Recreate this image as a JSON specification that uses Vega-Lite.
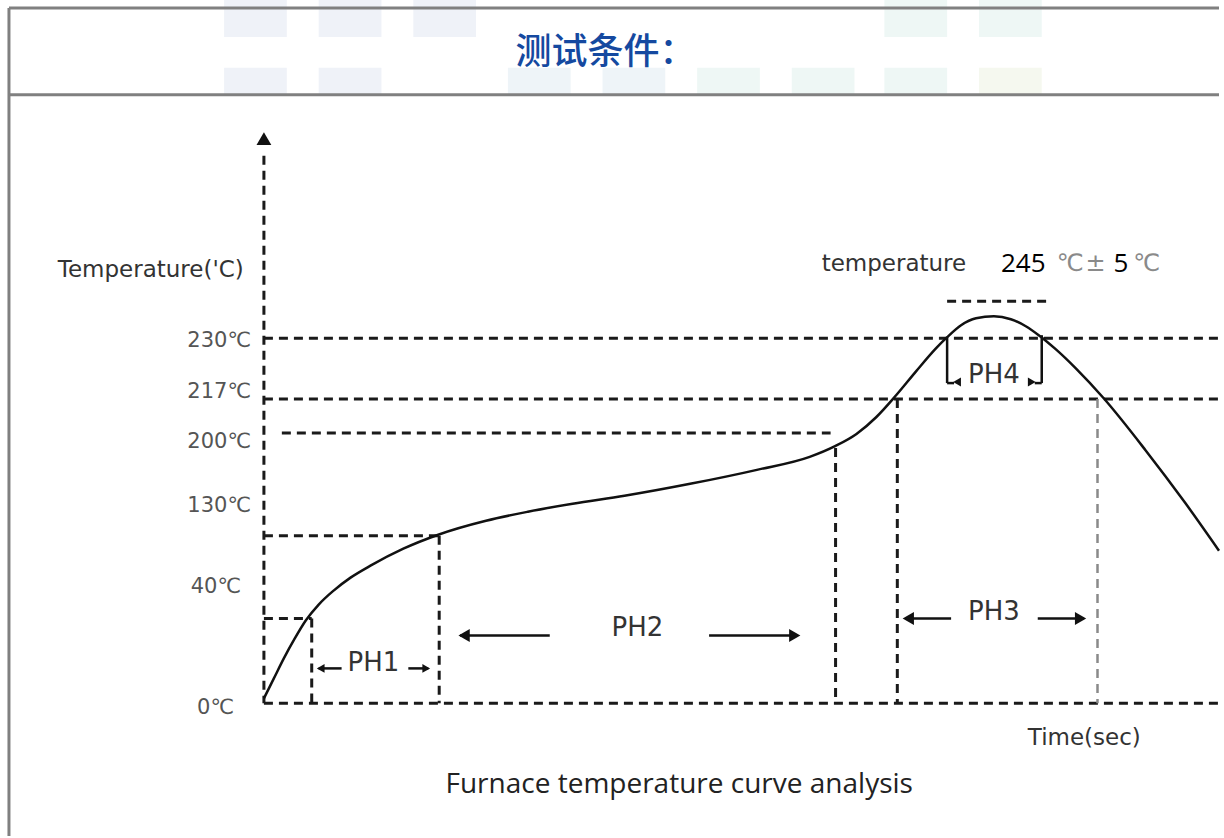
{
  "$schema": "https://vega.github.io/schema/vega-lite/v6.json",
  "width": 1224,
  "height": 838,
  "padding": 0,
  "autosize": {"type": "fit", "contains": "padding"},
  "background": "white",
  "config": {"view": {"stroke": null}},
  "datasets": {
    "tiles": [
      {"x": 225, "x2": 288, "y": 0, "y2": 37, "tone": "blue"},
      {"x": 320, "x2": 383, "y": 0, "y2": 37, "tone": "blue"},
      {"x": 415, "x2": 478, "y": 0, "y2": 37, "tone": "blue"},
      {"x": 888, "x2": 951, "y": 0, "y2": 37, "tone": "green"},
      {"x": 983, "x2": 1046, "y": 0, "y2": 37, "tone": "green"},
      {"x": 225, "x2": 288, "y": 68, "y2": 95, "tone": "blue"},
      {"x": 320, "x2": 383, "y": 68, "y2": 95, "tone": "blue"},
      {"x": 510, "x2": 573, "y": 68, "y2": 95, "tone": "sky"},
      {"x": 605, "x2": 668, "y": 68, "y2": 95, "tone": "sky"},
      {"x": 700, "x2": 763, "y": 68, "y2": 95, "tone": "green"},
      {"x": 795, "x2": 858, "y": 68, "y2": 95, "tone": "green"},
      {"x": 888, "x2": 951, "y": 68, "y2": 95, "tone": "green"},
      {"x": 983, "x2": 1046, "y": 68, "y2": 95, "tone": "lime"}
    ],
    "frame": [
      {"x": 9, "x2": 1224, "y": 8, "y2": 8},
      {"x": 9, "x2": 1224, "y": 95, "y2": 95},
      {"x": 9, "x2": 9, "y": 8, "y2": 838}
    ],
    "dashed": [
      {"x": 265, "x2": 265, "y": 156, "y2": 705},
      {"x": 265, "x2": 1224, "y": 705, "y2": 705},
      {"x": 265, "x2": 1224, "y": 339, "y2": 339},
      {"x": 265, "x2": 1224, "y": 400, "y2": 400},
      {"x": 283, "x2": 834, "y": 434, "y2": 434},
      {"x": 265, "x2": 441, "y": 537, "y2": 537},
      {"x": 265, "x2": 313, "y": 620, "y2": 620},
      {"x": 951, "x2": 1052, "y": 302, "y2": 302},
      {"x": 313, "x2": 313, "y": 620, "y2": 705},
      {"x": 441, "x2": 441, "y": 537, "y2": 705},
      {"x": 839, "x2": 839, "y": 449, "y2": 705},
      {"x": 901, "x2": 901, "y": 400, "y2": 705}
    ],
    "dashedGray": [
      {"x": 1102, "x2": 1102, "y": 400, "y2": 705}
    ],
    "solid": [
      {"x": 951, "x2": 951, "y": 338, "y2": 384},
      {"x": 1046, "x2": 1046, "y": 336, "y2": 384},
      {"x": 951, "x2": 958, "y": 384, "y2": 384},
      {"x": 1039, "x2": 1046, "y": 384, "y2": 384},
      {"x": 320, "x2": 343, "y": 670, "y2": 670},
      {"x": 410, "x2": 430, "y": 670, "y2": 670},
      {"x": 462, "x2": 552, "y": 637, "y2": 637},
      {"x": 712, "x2": 800, "y": 637, "y2": 637},
      {"x": 909, "x2": 955, "y": 620, "y2": 620},
      {"x": 1042, "x2": 1088, "y": 620, "y2": 620}
    ],
    "heads": [
      {"x": 322, "y": 670, "dir": "triangle-left", "kind": "small"},
      {"x": 428, "y": 670, "dir": "triangle-right", "kind": "small"},
      {"x": 466, "y": 637, "dir": "triangle-left", "kind": "big"},
      {"x": 798, "y": 637, "dir": "triangle-right", "kind": "big"},
      {"x": 912, "y": 620, "dir": "triangle-left", "kind": "big"},
      {"x": 1085, "y": 620, "dir": "triangle-right", "kind": "big"},
      {"x": 961, "y": 383, "dir": "triangle-left", "kind": "small"},
      {"x": 1036, "y": 383, "dir": "triangle-right", "kind": "small"}
    ],
    "axisHead": [
      {"x": 265, "y": 139, "dir": "triangle-up"}
    ],
    "curve": [
      {"x": 265, "y": 700}, {"x": 275, "y": 680}, {"x": 285, "y": 660},
      {"x": 296, "y": 640}, {"x": 307, "y": 622}, {"x": 320, "y": 606},
      {"x": 335, "y": 592}, {"x": 352, "y": 579}, {"x": 372, "y": 567},
      {"x": 405, "y": 550}, {"x": 440, "y": 536}, {"x": 488, "y": 522},
      {"x": 530, "y": 513}, {"x": 575, "y": 505}, {"x": 627, "y": 497},
      {"x": 693, "y": 485}, {"x": 760, "y": 471}, {"x": 813, "y": 458},
      {"x": 839, "y": 447}, {"x": 860, "y": 435}, {"x": 880, "y": 418},
      {"x": 900, "y": 396}, {"x": 920, "y": 372}, {"x": 940, "y": 349},
      {"x": 951, "y": 338}, {"x": 965, "y": 326}, {"x": 980, "y": 319},
      {"x": 998, "y": 317}, {"x": 1015, "y": 320}, {"x": 1030, "y": 327},
      {"x": 1043, "y": 336}, {"x": 1060, "y": 350}, {"x": 1080, "y": 369},
      {"x": 1108, "y": 399}, {"x": 1150, "y": 451}, {"x": 1190, "y": 504},
      {"x": 1224, "y": 552}
    ],
    "ylabels": [
      {"x": 252, "y": 342, "text": "230℃"},
      {"x": 252, "y": 393, "text": "217℃"},
      {"x": 252, "y": 443, "text": "200℃"},
      {"x": 252, "y": 507, "text": "130℃"},
      {"x": 242, "y": 588, "text": "40℃"},
      {"x": 235, "y": 710, "text": "0℃"}
    ],
    "titles": [
      {"x": 58, "y": 271, "text": "Temperature('C)"},
      {"x": 1032, "y": 740, "text": "Time(sec)"},
      {"x": 825, "y": 265, "text": "temperature"}
    ],
    "phlabels": [
      {"x": 375, "y": 665, "text": "PH1"},
      {"x": 640, "y": 630, "text": "PH2"},
      {"x": 998, "y": 613, "text": "PH3"},
      {"x": 998, "y": 376, "text": "PH4"}
    ],
    "specBlack": [
      {"x": 1005, "y": 265, "text": "245"},
      {"x": 1118, "y": 265, "text": "5"}
    ],
    "specGray": [
      {"x": 1061, "y": 265, "text": "℃"},
      {"x": 1090, "y": 265, "text": "±"},
      {"x": 1138, "y": 265, "text": "℃"}
    ],
    "heading": [
      {"x": 608, "y": 53, "text": "测试条件："}
    ],
    "caption": [
      {"x": 682, "y": 787, "text": "Furnace temperature curve analysis"}
    ]
  },
  "encoding": {
    "x": {"field": "x", "type": "quantitative", "scale": {"domain": [0, 1224], "nice": false, "zero": false}, "axis": null},
    "y": {"field": "y", "type": "quantitative", "scale": {"domain": [0, 838], "nice": false, "zero": false, "reverse": true}, "axis": null}
  },
  "layer": [
    {
      "data": {"name": "tiles"},
      "mark": {"type": "rect"},
      "encoding": {
        "x2": {"field": "x2"},
        "y2": {"field": "y2"},
        "color": {"field": "tone", "type": "nominal", "scale": {"domain": ["blue", "sky", "green", "lime"], "range": ["#eff2f8", "#eef4f8", "#eef7f5", "#f5f8ef"]}, "legend": null}
      }
    },
    {
      "data": {"name": "frame"},
      "mark": {"type": "rule", "color": "#808080", "strokeWidth": 3},
      "encoding": {"x2": {"field": "x2"}, "y2": {"field": "y2"}}
    },
    {
      "data": {"name": "dashed"},
      "mark": {"type": "rule", "color": "#1a1a1a", "strokeWidth": 3, "strokeDash": [9, 6]},
      "encoding": {"x2": {"field": "x2"}, "y2": {"field": "y2"}}
    },
    {
      "data": {"name": "dashedGray"},
      "mark": {"type": "rule", "color": "#8a8a8a", "strokeWidth": 2.5, "strokeDash": [9, 6]},
      "encoding": {"x2": {"field": "x2"}, "y2": {"field": "y2"}}
    },
    {
      "data": {"name": "solid"},
      "mark": {"type": "rule", "color": "#111111", "strokeWidth": 2.5},
      "encoding": {"x2": {"field": "x2"}, "y2": {"field": "y2"}}
    },
    {
      "data": {"name": "heads"},
      "mark": {"type": "point", "filled": true, "opacity": 1, "color": "#111111"},
      "encoding": {
        "shape": {"field": "dir", "type": "nominal", "scale": null},
        "size": {"field": "kind", "type": "nominal", "scale": {"domain": ["big", "small"], "range": [170, 80]}, "legend": null}
      }
    },
    {
      "data": {"name": "axisHead"},
      "mark": {"type": "point", "filled": true, "opacity": 1, "color": "#111111", "size": 220},
      "encoding": {
        "shape": {"field": "dir", "type": "nominal", "scale": null}
      }
    },
    {
      "data": {"name": "curve"},
      "mark": {"type": "line", "color": "#111111", "strokeWidth": 2.5, "interpolate": "monotone"},
      "encoding": {"order": {"field": "x", "type": "quantitative"}}
    },
    {
      "data": {"name": "ylabels"},
      "mark": {"type": "text", "align": "right", "baseline": "middle", "font": "DejaVu Sans", "fontSize": 21, "color": "#555555"},
      "encoding": {"text": {"field": "text"}}
    },
    {
      "data": {"name": "titles"},
      "mark": {"type": "text", "align": "left", "baseline": "middle", "font": "DejaVu Sans", "fontSize": 23, "color": "#333333"},
      "encoding": {"text": {"field": "text"}}
    },
    {
      "data": {"name": "phlabels"},
      "mark": {"type": "text", "align": "center", "baseline": "middle", "font": "DejaVu Sans", "fontSize": 26, "color": "#333333"},
      "encoding": {"text": {"field": "text"}}
    },
    {
      "data": {"name": "specBlack"},
      "mark": {"type": "text", "align": "left", "baseline": "middle", "font": "Open Sans", "fontSize": 26, "color": "#000000"},
      "encoding": {"text": {"field": "text"}}
    },
    {
      "data": {"name": "specGray"},
      "mark": {"type": "text", "align": "left", "baseline": "middle", "font": "DejaVu Sans", "fontSize": 24, "color": "#8a8a8a"},
      "encoding": {"text": {"field": "text"}}
    },
    {
      "data": {"name": "heading"},
      "mark": {"type": "text", "align": "center", "baseline": "middle", "font": "Noto Sans CJK SC", "fontSize": 36, "fontWeight": 500, "color": "#1549a0"},
      "encoding": {"text": {"field": "text"}}
    },
    {
      "data": {"name": "caption"},
      "mark": {"type": "text", "align": "center", "baseline": "middle", "font": "Open Sans", "fontSize": 28, "color": "#222222"},
      "encoding": {"text": {"field": "text"}}
    }
  ]
}
